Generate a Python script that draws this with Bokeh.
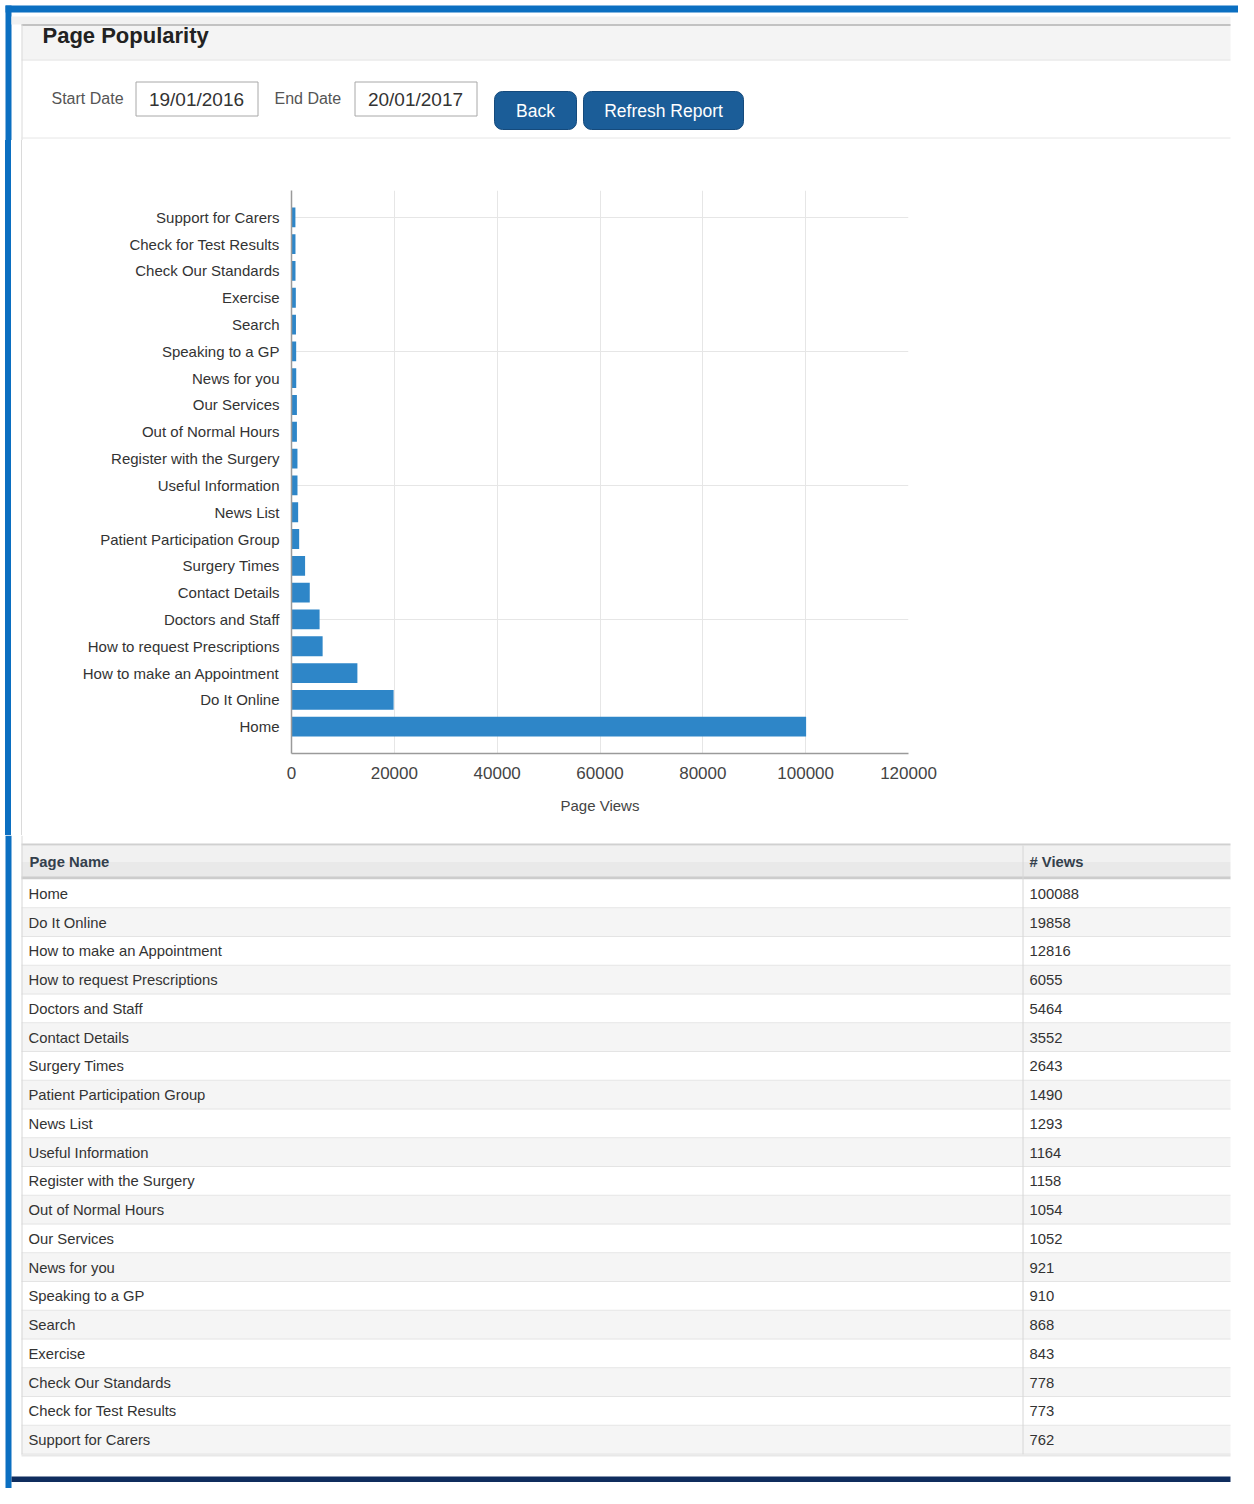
from bokeh.plotting import figure
from bokeh.layouts import column
from bokeh.models import Range1d, FixedTicker, Grid, NumeralTickFormatter
from bokeh.core.properties import value
from bokeh.embed import file_html
from bokeh.resources import INLINE

# ---------------- data ----------------
page_names = ["Home", "Do It Online", "How to make an Appointment",
              "How to request Prescriptions", "Doctors and Staff", "Contact Details",
              "Surgery Times", "Patient Participation Group", "News List",
              "Useful Information", "Register with the Surgery", "Out of Normal Hours",
              "Our Services", "News for you", "Speaking to a GP", "Search", "Exercise",
              "Check Our Standards", "Check for Test Results", "Support for Carers"]
page_views = [100088, 19858, 12816, 6055, 5464, 3552, 2643, 1490, 1293, 1164,
              1158, 1054, 1052, 921, 910, 868, 843, 778, 773, 762]
x_ticks = [0, 20000, 40000, 60000, 80000, 100000, 120000]
grid_rows = [4, 9, 14, 19]
title_text = "Page Popularity"
date_labels = ["Start Date", "End Date"]
date_values = ["19/01/2016", "20/01/2017"]
button_labels = ["Back", "Refresh Report"]
column_names = ["Page Name", "# Views"]
axis_title = "Page Views"

FONT = value("Liberation Sans")
BLUE = "#0b6fc1"
BTN = "#1b5d98"
W = 1238


def page_fig(ytop, ybot):
    f = figure(width=W, height=int(round(ybot - ytop)),
               x_range=Range1d(0, W), y_range=Range1d(ybot, ytop),
               output_backend="svg", toolbar_location=None, min_border=0,
               x_axis_location=None, y_axis_location=None,
               outline_line_color=None, background_fill_color="white",
               border_fill_color="white", frame_align=False)
    f.grid.visible = False
    return f


# ---------------- header ----------------
top = page_fig(0, 140)
top.quad(left=[5], right=[W], top=[5], bottom=[12], fill_color=BLUE, line_color=None)
top.quad(left=[5], right=[11], top=[5], bottom=[140], fill_color=BLUE, line_color=None)
top.quad(left=[11], right=[1230], top=[16], bottom=[24], fill_color="#f1f1f1", line_color=None)
top.quad(left=[21], right=[1230], top=[24], bottom=[59], fill_color="#f4f4f4", line_color=None)
top.segment(x0=[21], x1=[1230], y0=[24.5], y1=[24.5], line_color="#c2c2c2", line_width=2)
top.segment(x0=[21], x1=[1230], y0=[59.5], y1=[59.5], line_color="#e0e0e0", line_width=1)
top.segment(x0=[21.5], x1=[21.5], y0=[24], y1=[140], line_color="#dadada", line_width=1)
top.segment(x0=[21], x1=[1230], y0=[137.5], y1=[137.5], line_color="#e6e6e6", line_width=1)
top.text(x=[42], y=[35], text=[title_text], text_font=FONT, text_font_size="22px",
         text_font_style="bold", text_color="#222222", text_baseline="middle")
top.text(x=[51, 274], y=[98, 98], text=date_labels, text_font=FONT, text_font_size="16px",
         text_color="#555555", text_baseline="middle")
top.quad(left=[135.5, 354.5], right=[257.5, 476.5], top=[81.5, 81.5], bottom=[115.5, 115.5],
         fill_color="white", line_color="#a8a8a8", line_width=1)
top.text(x=[196, 415], y=[98.5, 98.5], text=date_values, text_font=FONT, text_font_size="19px",
         text_color="#333333", text_baseline="middle", text_align="center")
top.quad(left=[494, 583], right=[576, 743], top=[91, 91], bottom=[129, 129],
         fill_color=BTN, line_color="#154a7c", line_width=1, border_radius=8)
top.text(x=[535, 663], y=[110, 110], text=button_labels, text_font=FONT, text_font_size="17.5px",
         text_color="white", text_baseline="middle", text_align="center")

# ---------------- chart ----------------
idx = list(range(len(page_names)))
p = figure(width=W, height=695, x_range=Range1d(0, 120000), y_range=Range1d(-1, 20),
           output_backend="svg", toolbar_location=None,
           min_border_left=291, min_border_right=W - 908, min_border_top=50, min_border_bottom=82,
           outline_line_color=None, border_fill_color=None, background_fill_color="white",
           frame_align=False)
p.styles = {"background": "linear-gradient(to right, white 0px, white 5px, #0b6fc1 5px, #0b6fc1 11px, "
                          "white 11px, white 21px, #dadada 21px, #dadada 22px, white 22px, white 100%)"}
p.hbar(y=idx, left=0, right=page_views, height=0.74, fill_color="#2e86c8", line_color=None)

p.xaxis.ticker = FixedTicker(ticks=x_ticks)
p.xaxis.formatter = NumeralTickFormatter(format="0")
p.xaxis.axis_label = axis_title
p.xaxis.axis_label_text_font = "Liberation Sans"
p.xaxis.axis_label_text_font_size = "15px"
p.xaxis.axis_label_text_font_style = "normal"
p.xaxis.axis_label_text_color = "#444444"
p.xaxis.axis_label_standoff = 15
p.xaxis.major_label_text_font = "Liberation Sans"
p.xaxis.major_label_text_font_size = "17px"
p.xaxis.major_label_text_color = "#444444"
p.xaxis.major_label_standoff = 13

p.yaxis.ticker = FixedTicker(ticks=idx)
p.yaxis.major_label_overrides = {i: n for i, n in zip(idx, page_names)}
p.yaxis.major_label_text_font = "Liberation Sans"
p.yaxis.major_label_text_font_size = "15px"
p.yaxis.major_label_text_color = "#333333"
p.yaxis.major_label_standoff = 12

for ax in (p.xaxis, p.yaxis):
    ax.major_tick_out = 0
    ax.major_tick_in = 0
    ax.minor_tick_out = 0
    ax.minor_tick_in = 0
    ax.major_tick_line_color = None
    ax.minor_tick_line_color = None
    ax.axis_line_color = "#9a9a9a"
    ax.axis_line_width = 1.5

p.xgrid.grid_line_color = "#e6e6e6"
p.ygrid.grid_line_color = None
p.add_layout(Grid(dimension=1, ticker=FixedTicker(ticks=grid_rows), grid_line_color="#e6e6e6"))

# ---------------- table ----------------
bot = page_fig(835, 1488)
bot.quad(left=[5], right=[11], top=[835], bottom=[1488], fill_color=BLUE, line_color=None)
bot.segment(x0=[21.5], x1=[21.5], y0=[835], y1=[843], line_color="#dadada", line_width=1)
bot.quad(left=[21], right=[1230], top=[845], bottom=[861], fill_color="#f1f1f1", line_color=None)
bot.quad(left=[21], right=[1230], top=[861], bottom=[877], fill_color="#e9e9e9", line_color=None)
bot.segment(x0=[21], x1=[1230], y0=[844], y1=[844], line_color="#d0d0d0", line_width=2)
bot.segment(x0=[21], x1=[1230], y0=[877.5], y1=[877.5], line_color="#cccccc", line_width=3)
bot.text(x=[29, 1029], y=[861.5, 861.5], text=column_names, text_font=FONT, text_font_size="14.8px",
         text_font_style="bold", text_color="#34404c", text_baseline="middle")

row_top0 = 879.0
row_h = (1454.0 - row_top0) / len(page_names)
tops = [row_top0 + i * row_h for i in idx]
bots = [t + row_h for t in tops]
mids = [t + row_h / 2 for t in tops]
fills = ["white" if i % 2 == 0 else "#f5f5f5" for i in idx]
bot.quad(left=21, right=1230, top=tops, bottom=bots, fill_color=fills, line_color=None)
bot.segment(x0=21, x1=1230, y0=[b - 0.5 for b in bots], y1=[b - 0.5 for b in bots],
            line_color="#e4e4e4", line_width=1)
bot.segment(x0=[1022.5], x1=[1022.5], y0=[845], y1=[1454], line_color="#d6d6d6", line_width=1)
bot.segment(x0=[21.5], x1=[21.5], y0=[843], y1=[1454], line_color="#d6d6d6", line_width=1)
bot.segment(x0=[21], x1=[1230], y0=[1455], y1=[1455], line_color="#e8e8e8", line_width=2)
bot.text(x=28, y=mids, text=page_names, text_font=FONT, text_font_size="14.8px",
         text_color="#333333", text_baseline="middle")
bot.text(x=1029, y=mids, text=[str(v) for v in page_views], text_font=FONT,
         text_font_size="14.8px", text_color="#333333", text_baseline="middle")
bot.quad(left=[11], right=[1230], top=[1476], bottom=[1481.5], fill_color="#0f2d5e", line_color=None)

layout = column(top, p, bot, spacing=0)
open("out.html", "w").write(file_html(layout, INLINE))
